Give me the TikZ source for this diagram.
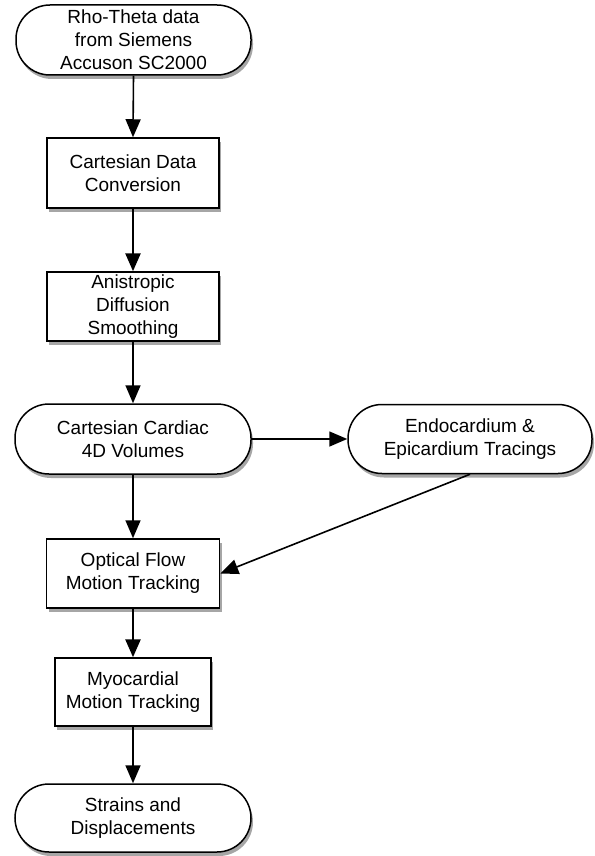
\documentclass[tikz,border=0pt]{standalone}
\usepackage{fontspec}
\setmainfont{Liberation Sans}
\usetikzlibrary{arrows.meta,shadows}
\begin{document}
\begin{tikzpicture}[x=1pt,y=1pt,
  every node/.style={font=\fontsize{19}{23}\selectfont, align=center, inner sep=0pt},
  shd/.style={drop shadow={shadow xshift=2pt,shadow yshift=-4pt,fill=black!35,opacity=1}},
  term/.style={draw, line width=1.5pt, fill=white, shd, rounded corners=34pt},
  proc/.style={draw, line width=1.5pt, fill=white, shd},
  arr/.style={line width=1.6pt, -{Triangle[length=18pt,width=15pt]}},
  thick arr/.style={line width=2.6pt, -{Triangle[length=18pt,width=15pt]}},
  ]
\useasboundingbox (0,0) rectangle (594,-856);
\node[term, minimum width=235pt, minimum height=70pt] (src) at (133.5,-40) {Rho-Theta data\\from Siemens\\Accuson SC2000};
\node[proc, minimum width=172pt, minimum height=70pt] (conv) at (133,-173) {Cartesian Data\\Conversion};
\node[proc, minimum width=172pt, minimum height=69pt] (aniso) at (133,-306.5) {Anistropic\\Diffusion\\Smoothing};
\node[term, minimum width=236pt, minimum height=70pt] (vol) at (133,-439) {Cartesian Cardiac\\4D Volumes};
\node[term, minimum width=244pt, minimum height=69pt] (endo) at (470,-439) {Endocardium \&\\Epicardium Tracings};
\node[proc, minimum width=173pt, minimum height=69pt] (flow) at (133,-573.5) {Optical Flow\\Motion Tracking};
\node[proc, minimum width=156pt, minimum height=68pt] (myo) at (133,-692) {Myocardial\\Motion Tracking};
\node[term, minimum width=236pt, minimum height=68pt] (out) at (133,-818) {Strains and\\Displacements};
\draw[arr] (src.south) -- (conv.north);
\draw[thick arr] (conv.south) -- (aniso.north);
\draw[arr] (aniso.south) -- (vol.north);
\draw[arr] (vol.east) -- (endo.west);
\draw[arr] (vol.south) -- (flow.north);
\draw[arr] (endo.south) -- (flow.east);
\draw[thick arr] (flow.south) -- (myo.north);
\draw[arr] (myo.south) -- (out.north);
\end{tikzpicture}
\end{document}
